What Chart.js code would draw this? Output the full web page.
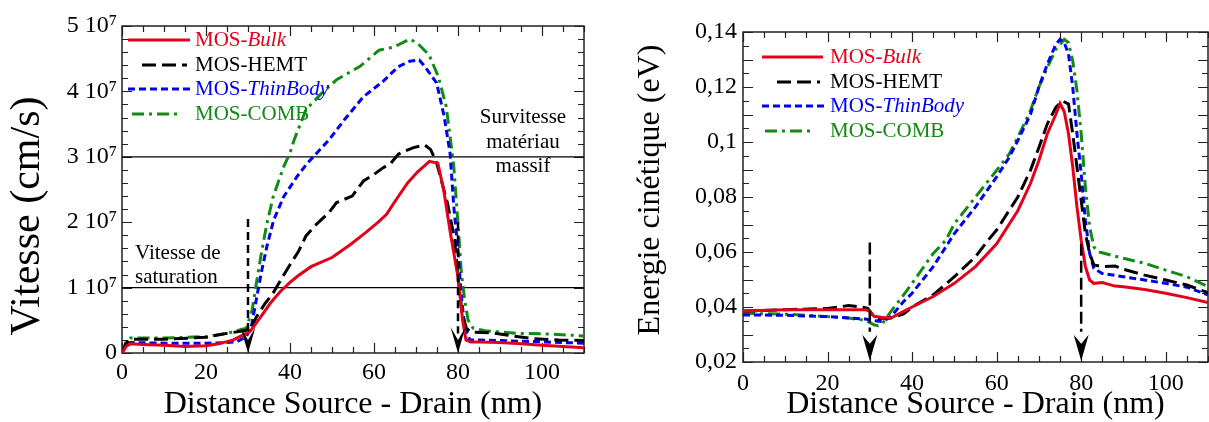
<!DOCTYPE html>
<html>
<head>
<meta charset="utf-8">
<script src="https://cdn.jsdelivr.net/npm/chart.js@4.4.1/dist/chart.umd.min.js"></script>
<style>
  body { margin: 0; background: #fff; }
  #wrap { position: relative; width: 1209px; height: 422px; }
  .box { position: absolute; top: 0; height: 422px; }
</style>
</head>
<body>
<div id="wrap">
  <div class="box" style="left:0;width:600px"><canvas id="vit" width="600" height="422"></canvas></div>
  <div class="box" style="left:600px;width:609px"><canvas id="ene" width="609" height="422"></canvas></div>
</div>
<script>
// --- data -------------------------------------------------------------
const xTicks = [0, 20, 40, 60, 80, 100];
const vYTicks = [0, 1, 2, 3, 4, 5];
const vYLabels = ['0', '1 10\u2077', '2 10\u2077', '3 10\u2077', '4 10\u2077', '5 10\u2077'];
const eYTicks = [0.02, 0.04, 0.06, 0.08, 0.1, 0.12, 0.14];
const eYLabels = ['0,02', '0,04', '0,06', '0,08', '0,1', '0,12', '0,14'];

const seriesNames = [['MOS-', 'Bulk'], ['MOS-HEMT', ''], ['MOS-', 'ThinBody'], ['MOS-COMB', '']];

// vitesse, in 10^7 cm/s, vs distance (nm)
const vBulk = [[0,0],[1,0.1],[2,0.14],[5,0.13],[10,0.12],[15,0.1],[20,0.11],[23,0.14],[26.5,0.2],[29,0.28],[30.5,0.33],[33,0.55],[35.3,0.76],[37.7,0.94],[40,1.08],[41.7,1.17],[45,1.32],[50,1.46],[54.4,1.66],[58,1.84],[60.8,1.99],[63,2.12],[64.7,2.29],[68,2.6],[70.4,2.77],[72,2.86],[73.2,2.93],[75.2,2.9],[76.6,2.49],[78.2,1.83],[80,1.16],[81.1,0.5],[81.9,0.2],[83,0.17],[85,0.17],[90,0.16],[95,0.14],[100,0.12],[105,0.1],[110,0.08]];
const vHemt = [[0,0],[1,0.15],[2,0.21],[10,0.21],[20,0.24],[25,0.3],[29,0.34],[30.5,0.36],[32,0.55],[34,0.75],[36,0.92],[38.4,1.18],[40,1.35],[42,1.55],[43.8,1.79],[46,1.95],[49.3,2.15],[51.1,2.3],[54.8,2.4],[57.5,2.63],[60,2.73],[62.1,2.83],[64,2.9],[65.8,3.04],[67,3.08],[69.4,3.14],[72.1,3.18],[73.5,3.11],[74.9,2.91],[77.5,2.29],[79.2,1.73],[80,1.16],[81,0.6],[82,0.38],[83,0.32],[88,0.31],[92,0.27],[98,0.22],[104,0.2],[110,0.19]];
const vThin = [[0,0],[1,0.12],[2,0.16],[10,0.15],[20,0.15],[25,0.16],[27.2,0.17],[29.6,0.25],[30.8,0.4],[32.1,0.86],[33.3,1.27],[34.5,1.63],[36.1,2.03],[38.5,2.39],[41.7,2.7],[44.1,2.9],[45.7,3.01],[49.3,3.26],[53,3.57],[57.5,3.92],[62.1,4.15],[65.8,4.38],[68.5,4.46],[70.8,4.48],[72.1,4.38],[74.9,4.13],[76.7,3.62],[78.1,3.06],[79,2.24],[80,1.57],[80.8,0.86],[81.6,0.4],[82.8,0.2],[90,0.19],[100,0.17],[110,0.15]];
const vComb = [[0,0],[1,0.18],[2,0.23],[10,0.23],[20,0.25],[25,0.3],[29.6,0.38],[31,0.66],[32,1.07],[33.3,1.57],[34.5,1.98],[36,2.39],[38.5,2.85],[40,3.06],[41,3.26],[43.8,3.72],[47.5,3.97],[51.1,4.18],[56.6,4.38],[61.2,4.63],[64.8,4.68],[68.5,4.8],[70.3,4.74],[73.1,4.56],[75.3,4.23],[77.2,3.77],[78.5,3.11],[79,2.85],[80,1.98],[80.8,1.22],[81.6,0.81],[82.4,0.5],[83.6,0.38],[86.4,0.34],[94.3,0.3],[102.3,0.29],[110,0.26]];
const vRefLevels = [1, 3];
const vArrowX = [30, 80];
const vArrowTop = [2.05, 2.0];
const vArrowEnd = [0.3, 0.3];
const vArrowTip = [0, 0];

// energie cinetique (eV) vs distance (nm)
const eBulk = [[0,0.0385],[10,0.039],[20,0.039],[25,0.039],[29,0.039],[30,0.0385],[31,0.0366],[33,0.0362],[35,0.036],[38,0.0384],[40,0.04],[45,0.0438],[50,0.0486],[55,0.0547],[60,0.063],[65,0.075],[68,0.0849],[70,0.0933],[72,0.103],[74,0.11],[75,0.114],[76,0.111],[77,0.103],[78,0.091],[79,0.0764],[80,0.0643],[81,0.0547],[82,0.0498],[83,0.0486],[85,0.0489],[88,0.0476],[90,0.0474],[95,0.0464],[100,0.045],[105,0.0434],[110,0.0416]];
const eHemt = [[0,0.0385],[10,0.039],[20,0.0395],[25,0.0405],[28,0.04],[29.5,0.0395],[31,0.0365],[32,0.0358],[35,0.036],[38,0.0375],[40,0.04],[45,0.0444],[50,0.051],[55,0.0583],[58,0.0643],[60,0.068],[65,0.08],[68,0.0897],[70,0.098],[72,0.1066],[74,0.1126],[75.5,0.115],[77,0.1138],[78,0.103],[79,0.0909],[80,0.0788],[81,0.0667],[82,0.0595],[83,0.0553],[85,0.0547],[88,0.0549],[90,0.0537],[95,0.0516],[100,0.0498],[105,0.048],[110,0.0452]];
const eThin = [[0,0.0371],[10,0.037],[20,0.0365],[25,0.036],[29,0.0356],[31,0.035],[33,0.0347],[35,0.0365],[38,0.042],[40,0.045],[45,0.0547],[50,0.0667],[55,0.0764],[60,0.0873],[63,0.0945],[65,0.1005],[68,0.11],[70,0.12],[72,0.1283],[74,0.1355],[75,0.1373],[76,0.1361],[77,0.132],[78,0.12],[79,0.103],[80,0.0885],[81,0.0715],[82,0.0595],[83,0.054],[85,0.0522],[90,0.051],[95,0.0498],[100,0.0486],[105,0.0472],[110,0.0444]];
const eComb = [[0,0.0377],[10,0.0374],[20,0.0365],[25,0.036],[29,0.0351],[31,0.0335],[32,0.0332],[33,0.034],[35,0.0384],[38,0.0444],[40,0.0486],[45,0.0595],[48,0.0643],[50,0.0703],[55,0.08],[60,0.0897],[63,0.0957],[65,0.1017],[68,0.1114],[70,0.12],[72,0.1271],[74,0.1337],[76,0.1373],[77,0.1361],[78,0.1295],[79,0.1187],[80,0.103],[81,0.0836],[82,0.0691],[83,0.0619],[84,0.06],[85,0.0597],[90,0.0577],[95,0.0559],[100,0.0534],[105,0.051],[110,0.0474]];
const eArrowX = [30, 80];
const eArrowTop = [0.0635, 0.063];
const eArrowEnd = [0.031, 0.031];
const eArrowTip = [0.0205, 0.0205];

// --- styles -----------------------------------------------------------
const FONT = "'Liberation Serif', 'Times New Roman', serif";
Chart.defaults.font.family = FONT;
Chart.defaults.color = '#000';

const styles = [
  { color: '#e3001b', dash: [] },
  { color: '#000000', dash: [14, 6] },
  { color: '#0000ee', dash: [7, 4] },
  { color: '#138a13', dash: [12, 5, 3, 5] }
];

function toXY(pts) { return pts.map(p => ({ x: p[0], y: p[1] })); }

function seriesSets(list) {
  return list.map((pts, i) => ({
    label: seriesNames[i].join(''),
    data: toXY(pts),
    borderColor: styles[i].color,
    borderDash: styles[i].dash,
    borderWidth: 3,
    pointRadius: 0,
    tension: 0,
    fill: false
  }));
}

function arrowSets(xs, tops, ends, dash) {
  return xs.map((x, i) => ({
    data: [{ x: x, y: tops[i] }, { x: x, y: ends[i] }],
    borderColor: '#000',
    borderDash: dash,
    borderWidth: 2.5,
    pointRadius: 0
  }));
}

// frame with inward ticks on all four sides
const frame = {
  id: 'frame',
  beforeDatasetsDraw(chart, args, o) {
    const { ctx, chartArea: a, scales: { x, y } } = chart;
    ctx.save();
    ctx.strokeStyle = '#222';
    ctx.lineWidth = 1.5;
    ctx.strokeRect(a.left, a.top, a.right - a.left, a.bottom - a.top);
    ctx.lineWidth = 1.2;
    ctx.beginPath();
    const nx = Math.round((x.max - x.min) / o.xMinor);
    for (let i = 0; i <= nx; i++) {
      const v = x.min + i * o.xMinor;
      const px = Math.round(x.getPixelForValue(v)) + 0.5;
      const r = v / o.xMajor;
      const len = Math.abs(r - Math.round(r)) < 1e-6 ? 10 : 6;
      ctx.moveTo(px, a.bottom); ctx.lineTo(px, a.bottom - len);
      ctx.moveTo(px, a.top); ctx.lineTo(px, a.top + len);
    }
    const ny = Math.round((y.max - y.min) / o.yMinor);
    for (let i = 0; i <= ny; i++) {
      const v = y.min + i * o.yMinor;
      const py = Math.round(y.getPixelForValue(v)) + 0.5;
      const r = (v - y.min) / o.yMajor;
      const len = Math.abs(r - Math.round(r)) < 1e-6 ? 10 : 6;
      ctx.moveTo(a.left, py); ctx.lineTo(a.left + len, py);
      ctx.moveTo(a.right, py); ctx.lineTo(a.right - len, py);
    }
    ctx.stroke();
    ctx.restore();
  }
};

// legend, arrow heads, notes and rotated y title
const decor = {
  id: 'decor',
  afterDatasetsDraw(chart, args, o) {
    const { ctx, scales: { x, y } } = chart;
    ctx.save();
    // arrow heads
    ctx.fillStyle = '#000';
    o.arrowX.forEach((ax, i) => {
      const px = x.getPixelForValue(ax);
      const py = y.getPixelForValue(o.arrowTip[i]);
      ctx.beginPath();
      ctx.moveTo(px, py);
      ctx.lineTo(px - 7.5, py - 26);
      ctx.lineTo(px, py - o.notch);
      ctx.lineTo(px + 7.5, py - 26);
      ctx.closePath();
      ctx.fill();
    });
    // legend
    ctx.textBaseline = 'middle';
    ctx.textAlign = 'left';
    seriesNames.forEach((nm, i) => {
      const yy = o.legRows[i];
      ctx.strokeStyle = styles[i].color;
      ctx.lineWidth = 3;
      ctx.setLineDash(styles[i].dash);
      ctx.beginPath();
      ctx.moveTo(o.legX0[i], yy);
      ctx.lineTo(o.legX1[i], yy);
      ctx.stroke();
      ctx.setLineDash([]);
      ctx.fillStyle = styles[i].color;
      ctx.font = '21px ' + FONT;
      ctx.fillText(nm[0], o.legText, yy);
      const w = ctx.measureText(nm[0]).width;
      ctx.font = 'italic 21px ' + FONT;
      ctx.fillText(nm[1], o.legText + w, yy);
    });
    // notes
    ctx.fillStyle = '#000';
    ctx.font = '21px ' + FONT;
    o.notes.forEach(n => {
      ctx.textAlign = n.align;
      ctx.fillText(n.text, n.x, n.y);
    });
    // y title
    ctx.translate(o.yTitle.x, o.yTitle.y);
    ctx.rotate(-Math.PI / 2);
    ctx.textAlign = 'center';
    ctx.font = o.yTitle.size + 'px ' + FONT;
    ctx.fillText(o.yTitle.text, 0, 0);
    ctx.restore();
  }
};

function xScale(height, pad) {
  return {
    type: 'linear', min: 0, max: 110,
    afterBuildTicks: s => { s.ticks = xTicks.map(v => ({ value: v })); },
    afterFit: s => { s.height = height; },
    grid: { display: false, drawTicks: false },
    border: { display: false },
    ticks: { font: { size: 24 }, color: '#000', padding: pad, maxRotation: 0, autoSkip: false },
    title: {
      display: true, text: 'Distance Source - Drain (nm)', color: '#000',
      font: { size: 32, lineHeight: 1 }, padding: { top: 0, bottom: 1 }
    }
  };
}

function yScale(min, max, ticks, labels, width, pad) {
  return {
    type: 'linear', min: min, max: max,
    afterBuildTicks: s => { s.ticks = ticks.map(v => ({ value: v })); },
    afterFit: s => { s.width = width; },
    grid: { display: false, drawTicks: false },
    border: { display: false },
    ticks: {
      font: { size: 24 }, color: '#000', padding: pad, autoSkip: false,
      callback: v => labels[ticks.indexOf(v)]
    }
  };
}

const common = {
  responsive: false,
  animation: false,
  plugins: { legend: { display: false }, tooltip: { enabled: false } }
};

// --- left: vitesse ----------------------------------------------------
new Chart(document.getElementById('vit'), {
  type: 'line',
  data: {
    datasets: [
      ...arrowSets(vArrowX, vArrowTop, vArrowEnd, [8, 5]),
      ...seriesSets([vBulk, vHemt, vThin, vComb]),
      ...vRefLevels.map(l => ({
        data: [{ x: 0, y: l }, { x: 110, y: l }],
        borderColor: '#000', borderWidth: 1.2, pointRadius: 0
      }))
    ]
  },
  options: {
    ...common,
    layout: { padding: { left: 0, right: 16, top: 26, bottom: 0 } },
    scales: {
      x: xScale(69, 5),
      y: yScale(0, 5, vYTicks, vYLabels, 122, 5)
    },
    plugins: {
      ...common.plugins,
      frame: { xMinor: 5, xMajor: 20, yMinor: 0.2, yMajor: 1 },
      decor: {
        arrowX: vArrowX, arrowTip: vArrowTip, notch: 13,
        legRows: [40, 65, 89, 114],
        legX0: [128, 142, 128, 132],
        legX1: [190, 187, 190, 182],
        legText: 195,
        notes: [
          { text: 'Vitesse de', x: 135, y: 253, align: 'left' },
          { text: 'saturation', x: 135, y: 277, align: 'left' },
          { text: 'Survitesse', x: 523, y: 117, align: 'center' },
          { text: 'mat\u00e9riau', x: 523, y: 142, align: 'center' },
          { text: 'massif', x: 523, y: 166, align: 'center' }
        ],
        yTitle: { text: 'Vitesse (cm/s)', x: 28, y: 216, size: 42 }
      }
    }
  },
  plugins: [frame, decor]
});

// --- right: energie ---------------------------------------------------
new Chart(document.getElementById('ene'), {
  type: 'line',
  data: {
    datasets: [
      ...arrowSets(eArrowX, eArrowTop, eArrowEnd, [12, 5]),
      ...seriesSets([eBulk, eHemt, eThin, eComb])
    ]
  },
  options: {
    ...common,
    layout: { padding: { left: 0, right: 1, top: 32, bottom: 0 } },
    scales: {
      x: xScale(60, 7),
      y: yScale(0.02, 0.14, eYTicks, eYLabels, 143, 6)
    },
    plugins: {
      ...common.plugins,
      frame: { xMinor: 5, xMajor: 20, yMinor: 0.005, yMajor: 0.01 },
      decor: {
        arrowX: eArrowX, arrowTip: eArrowTip, notch: 17,
        legRows: [57, 82, 106, 131],
        legX0: [162, 177, 162, 165],
        legX1: [223, 220, 225, 215],
        legText: 230,
        notes: [],
        yTitle: { text: 'Energie cin\u00e9tique (eV)', x: 51, y: 190, size: 32 }
      }
    }
  },
  plugins: [frame, decor]
});
</script>
</body>
</html>
